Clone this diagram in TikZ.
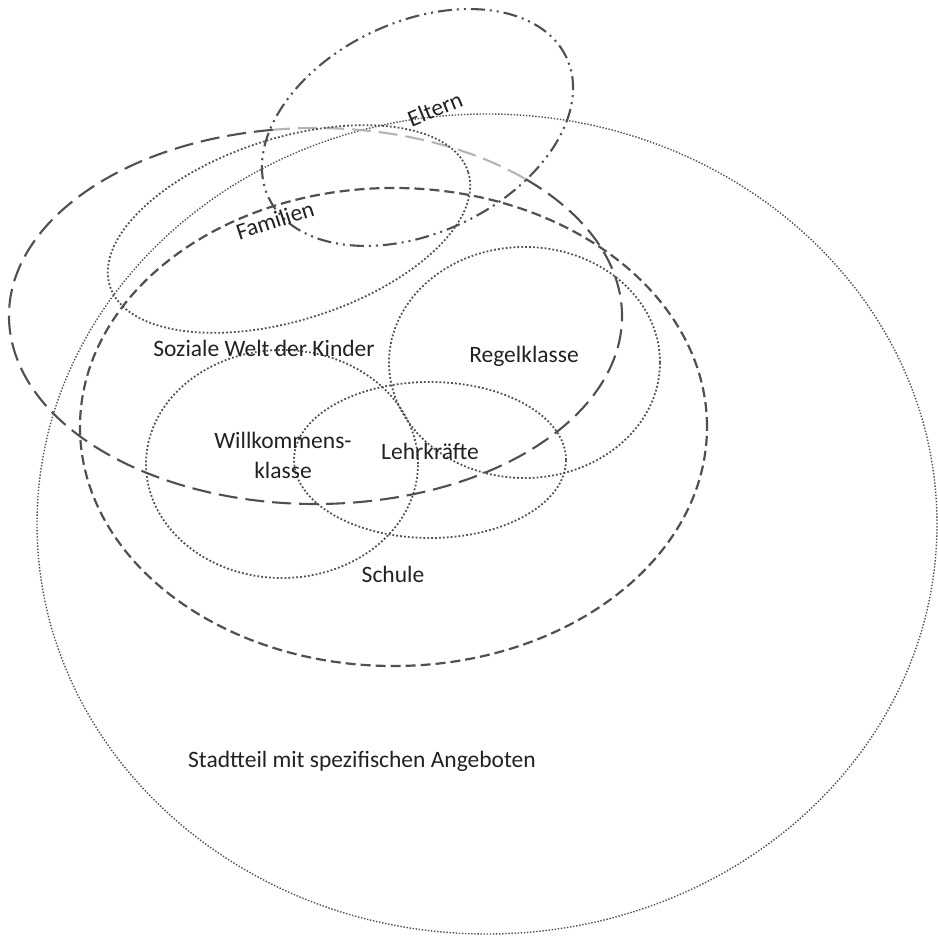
\documentclass[tikz,border=0pt]{standalone}
\usepackage{fontspec}
\setmainfont{Carlito}
\definecolor{linegray}{HTML}{505050}
\definecolor{lightseg}{HTML}{B4B4B4}
\definecolor{textcol}{HTML}{222222}
\tikzset{
  dotline/.style={draw=linegray, line width=1.8pt, dash pattern=on 1.8pt off 2.1pt},
  finedot/.style={draw=linegray, line width=1.4pt, dash pattern=on 1.4pt off 1.7pt},
  schuledash/.style={draw=linegray, line width=2.2pt, dash pattern=on 10pt off 5pt},
  longdash/.style={draw=linegray, line width=2.1pt, dash pattern=on 19pt off 8pt},
  dashdotdot/.style={draw=linegray, line width=2.1pt, dash pattern=on 14pt off 5pt on 2pt off 5pt on 2pt off 5pt},
  lbl/.style={text=textcol, inner sep=0pt, font=\fontsize{23.5}{30}\selectfont}
}
\begin{document}
\begin{tikzpicture}[x=1pt,y=1pt]
\useasboundingbox (0,0) rectangle (938,937);
% Stadtteil
\draw[finedot] (487,413) ellipse [x radius=450, y radius=410];
% Schule
\draw[schuledash] (393.5,510) ellipse [x radius=313.5, y radius=239];
% Soziale Welt der Kinder (dark part and light part)
\draw[longdash] ({315.5+306.5*cos(98)},{621+188*sin(98)}) arc [start angle=98, end angle=407, x radius=306.5, y radius=188];
\draw[longdash, draw=lightseg] ({315.5+306.5*cos(47)},{621+188*sin(47)}) arc [start angle=47, end angle=98, x radius=306.5, y radius=188];
% Eltern
\draw[dashdotdot, rotate around={25.2:(417.5,809.5)}] (417.5,809.5) ellipse [x radius=164.6, y radius=105.5];
% Familien
\draw[dotline, rotate around={17.7:(289,708)}] (289,708) ellipse [x radius=188, y radius=91];
% Regelklasse
\draw[dotline] (524.5,574.5) ellipse [x radius=135.5, y radius=115.5];
% Lehrkraefte
\draw[dotline] (430,477) ellipse [x radius=136, y radius=78];
% Willkommensklasse
\draw[dotline] (282,473) ellipse [x radius=136, y radius=114];
% labels
\node[lbl, rotate=22] (eltern) at (435,828) {Eltern};
\node[lbl, rotate=18] (familien) at (275,717) {Familien};
\node[lbl, anchor=base] (sozial) at (264,580) {Soziale Welt der Kinder};
\node[lbl, anchor=base] (regel) at (524,574) {Regelklasse};
\node[lbl, align=center] (willk) at (283,482) {Willkommens-\\klasse};
\node[lbl, anchor=base] (lehr) at (430,477) {Lehrkräfte};
\node[lbl, anchor=base] (schule) at (393,354) {Schule};
\node[lbl, anchor=base] (stadt) at (362,169) {Stadtteil mit spezifischen Angeboten};
\end{tikzpicture}
\end{document}
